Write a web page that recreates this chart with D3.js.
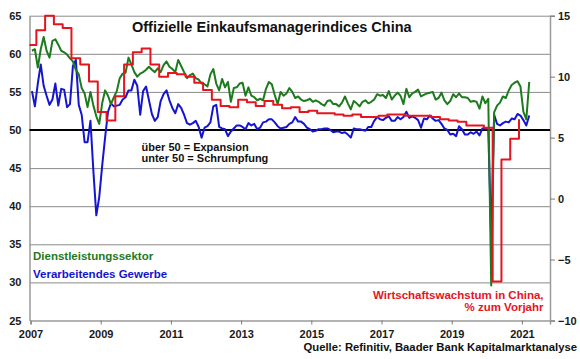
<!DOCTYPE html>
<html>
<head>
<meta charset="utf-8">
<script src="https://cdn.jsdelivr.net/npm/d3@7"></script>
<style>
  html, body { margin: 0; padding: 0; background: #fff; }
  svg { display: block; }
  text { font-family: "Liberation Sans", Arial, sans-serif; font-weight: bold; }
</style>
</head>
<body>
<svg id="chart" width="580" height="359"></svg>
<script>
// ---------- DATA ----------
const startYear = 2007;
// Official manufacturing PMI (monthly from Jan 2007)
const manufacturing = [
  55.1, 53.1, 56.1, 58.6, 55.8, 54.5, 53.3, 54.0, 56.1, 53.2, 55.4, 55.3,
  53.0, 53.4, 58.4, 59.2, 53.3, 52.0, 48.4, 48.4, 51.2, 44.6, 38.8, 41.2,
  45.3, 49.0, 52.4, 53.5, 53.1, 53.2, 53.3, 54.0, 54.3, 55.2, 55.2, 56.6,
  55.8, 52.0, 55.1, 55.7, 53.9, 52.1, 51.2, 51.7, 53.8, 54.7, 55.2, 53.9,
  52.9, 52.2, 53.4, 52.9, 52.0, 50.9, 50.7, 50.9, 51.2, 50.4, 49.0, 50.3,
  50.5, 51.0, 53.1, 53.3, 50.4, 50.2, 50.1, 49.2, 49.8, 50.2, 50.6, 50.6,
  50.4, 50.1, 50.9, 50.6, 50.8, 50.1, 50.3, 51.0, 51.1, 51.4, 51.4, 51.0,
  50.5, 50.2, 50.3, 50.4, 50.8, 51.0, 51.7, 51.1, 51.1, 50.8, 50.3, 50.1,
  49.8, 49.9, 50.1, 50.1, 50.2, 50.2, 50.0, 49.7, 49.8, 49.8, 49.6, 49.7,
  49.4, 49.0, 50.2, 50.1, 50.1, 50.0, 49.9, 50.4, 50.4, 51.2, 51.7, 51.4,
  51.3, 51.6, 51.8, 51.2, 51.2, 51.7, 51.4, 51.7, 52.4, 51.6, 51.8, 51.6,
  51.3, 50.3, 51.5, 51.4, 51.9, 51.5, 51.2, 51.3, 50.8, 50.2, 50.0, 49.4,
  49.5, 49.2, 50.5, 50.1, 49.4, 49.4, 49.7, 49.5, 49.8, 49.3, 50.2, 50.2,
  50.0, 35.7, 52.0, 50.8, 50.6, 50.9, 51.1, 51.0, 51.5, 51.4, 52.1, 51.9,
  51.3, 50.6, 51.9
];
// Official non-manufacturing (services) PMI (monthly from Jan 2007)
const services = [
  60.4, 60.6, 58.2, 60.6, 62.2, 60.4, 59.5, 61.7, 61.9, 61.2, 60.4, 60.2,
  59.9, 59.4, 59.0, 57.9, 57.3, 55.5, 54.8, 53.0, 55.0, 53.2, 51.8, 50.8,
  53.5, 55.2, 54.5, 53.4, 54.3, 55.1, 56.8, 57.4, 57.5, 59.5, 58.6, 57.6,
  57.0, 57.4, 57.6, 57.9, 58.3, 57.9, 57.6, 58.1, 57.6, 58.5, 59.0, 58.3,
  58.0, 57.6, 59.2, 58.4, 57.6, 56.8, 57.2, 57.4, 56.8, 56.6, 56.1, 56.0,
  55.7, 57.3, 58.0, 56.1, 55.2, 56.7, 55.6, 56.3, 53.7, 55.5, 55.6, 56.1,
  56.2, 54.5, 55.6, 54.5, 54.3, 53.9, 54.1, 53.9, 55.4, 56.3, 56.0, 54.6,
  53.4, 55.0, 54.5, 54.8, 55.5, 55.0, 54.2, 54.4, 54.0, 53.8, 53.9, 54.1,
  53.7, 53.9, 53.7, 53.4, 53.2, 53.8, 53.9, 53.4, 53.4, 53.1, 53.6, 54.4,
  53.5, 52.7, 53.8, 53.5, 53.1, 53.7, 53.9, 53.5, 53.7, 54.0, 54.7, 54.5,
  54.6, 54.2, 55.1, 54.0, 54.5, 54.9, 54.5, 53.4, 55.4, 54.3, 54.8, 55.0,
  55.3, 54.4, 54.6, 54.8, 54.9, 55.0, 54.0, 54.2, 54.9, 53.9, 53.4, 53.8,
  54.7, 54.3, 54.8, 54.3, 54.3, 54.2, 53.7, 53.8, 53.7, 52.8, 54.4, 53.5,
  54.1, 29.6, 52.3, 53.2, 53.6, 54.4, 54.2, 55.2, 55.9, 56.2, 56.4, 55.7,
  52.4, 51.4, 56.3
];
// Real GDP growth, % y/y, quarterly from Q4 2006 (right axis)
const gdpStartYear = 2006, gdpStartQuarter = 4;
const gdpGrowth = [
  12.6,
  13.8, 15.0, 14.3, 14.0,
  11.5, 11.0, 9.6, 7.1,
  6.4, 8.4, 11.0, 12.0,
  12.3, 11.0, 10.0, 10.3,
  10.2, 10.0, 9.5, 8.9,
  8.1, 7.6, 7.5, 8.1,
  7.9, 7.6, 8.0, 7.7,
  7.4, 7.5, 7.1, 7.2,
  7.0, 7.0, 6.9, 6.8,
  6.9, 6.7, 6.7, 6.8,
  6.9, 6.9, 6.8, 6.8,
  6.8, 6.7, 6.5, 6.4,
  6.3, 6.0, 6.0, 5.8,
  -6.8, 3.2, 4.9, 6.5
];
const xTickYears = [2007, 2009, 2011, 2013, 2015, 2017, 2019, 2021];
const leftTicks = [25, 30, 35, 40, 45, 50, 55, 60, 65];
const rightTicks = [-10, -5, 0, 5, 10, 15];
const title = "Offizielle Einkaufsmanagerindices China";
const note = ["über 50 = Expansion", "unter 50 = Schrumpfung"];
const legendServices = "Dienstleistungssektor";
const legendManufacturing = "Verarbeitendes Gewerbe";
const gdpLabel = ["Wirtschaftswachstum in China,", "% zum Vorjahr"];
const source = "Quelle: Refinitiv, Baader Bank Kapitalmarktanalyse";

// ---------- LAYOUT ----------
const L = 29.5, R = 550, T = 15.7, B = 320.5;
const colGreen = "#1d7a1d", colBlue = "#1414d2", colRed = "#e6141e";

const svg = d3.select("#chart");
const x = d3.scaleLinear().domain([2007, 2021.8]).range([30.5, R]);
const yL = d3.scaleLinear().domain([25, 65]).range([B, T]);
const yR = d3.scaleLinear().domain([-10, 15]).range([B, T]);

svg.append("defs").append("clipPath").attr("id", "clip")
  .append("rect").attr("x", L).attr("y", T - 2).attr("width", R - L).attr("height", B - T + 4);

// gridlines
const grid = svg.append("g").attr("transform", `translate(${L},0)`)
  .call(d3.axisLeft(yL).tickValues(leftTicks.filter(d => d !== 25 && d !== 50)).tickSize(-(R - L)).tickFormat(""));
grid.select(".domain").remove();
grid.selectAll("line").attr("stroke", "#8a8a8a").attr("stroke-width", 1);

// left axis
const gl = svg.append("g").attr("transform", `translate(${L},0)`)
  .call(d3.axisLeft(yL).tickValues(leftTicks).tickSize(0).tickPadding(8));
gl.select(".domain").attr("stroke", "#9a9a9a").attr("stroke-width", 1.5);
gl.selectAll("text").attr("font-size", 11).attr("fill", "#1a1a1a");

// right axis
const gr = svg.append("g").attr("transform", `translate(${R},0)`)
  .call(d3.axisRight(yR).tickValues(rightTicks).tickSize(5).tickPadding(3));
gr.select(".domain").attr("stroke", "#9a9a9a").attr("stroke-width", 1.5);
gr.selectAll("line").attr("stroke", "#7a7a7a");
gr.selectAll("text").attr("font-size", 11).attr("fill", "#1a1a1a");

// bottom axis
const gb = svg.append("g").attr("transform", `translate(0,${B})`)
  .call(d3.axisBottom(x).tickValues(xTickYears).tickFormat(d3.format("d")).tickSize(4).tickPadding(6));
gb.select(".domain").attr("stroke", "#9a9a9a").attr("stroke-width", 1.5);
gb.selectAll("line").attr("stroke", "#7a7a7a");
gb.selectAll("text").attr("font-size", 11).attr("fill", "#1a1a1a");

// 50 line
svg.append("line").attr("x1", L).attr("x2", R).attr("y1", yL(50)).attr("y2", yL(50))
  .attr("stroke", "#000").attr("stroke-width", 2);

// series
const monthly = arr => arr.map((v, i) => ({ t: startYear + (i + 0.5) / 12, v }));
const plot = svg.append("g").attr("clip-path", "url(#clip)");
const lineL = d3.line().x(d => x(d.t)).y(d => yL(d.v));

plot.append("path").datum(monthly(manufacturing)).attr("d", lineL)
  .attr("fill", "none").attr("stroke", colBlue).attr("stroke-width", 2).attr("stroke-linejoin", "round");
plot.append("path").datum(monthly(services)).attr("d", lineL)
  .attr("fill", "none").attr("stroke", colGreen).attr("stroke-width", 2).attr("stroke-linejoin", "round");

const gdpPts = gdpGrowth.map((v, i) => {
  const q = gdpStartQuarter - 1 + i;
  const yr = gdpStartYear + Math.floor(q / 4);
  const qi = q % 4;
  return { t: yr + (qi * 3 + 2) / 12, v };
});
const lineR = d3.line().x(d => x(d.t)).y(d => yR(d.v)).curve(d3.curveStepAfter);
plot.append("path").datum(gdpPts).attr("d", lineR)
  .attr("fill", "none").attr("stroke", colRed).attr("stroke-width", 2).attr("stroke-linejoin", "round");

// texts
svg.append("text").attr("x", 132).attr("y", 31.5).attr("font-size", 14.5).attr("fill", "#111")
  .text(title);

svg.selectAll(".note").data(note).enter().append("text")
  .attr("x", 141.5).attr("y", (d, i) => 150.5 + i * 11.3).attr("font-size", 11).attr("fill", "#111")
  .text(d => d);

svg.append("text").attr("x", 33).attr("y", 260).attr("font-size", 11.5).attr("fill", colGreen).text(legendServices);
svg.append("text").attr("x", 33).attr("y", 277.5).attr("font-size", 11.5).attr("fill", colBlue).text(legendManufacturing);

svg.selectAll(".gdp").data(gdpLabel).enter().append("text")
  .attr("x", 543.5).attr("y", (d, i) => 299 + i * 11.8).attr("text-anchor", "end")
  .attr("font-size", 11.5).attr("fill", colRed).text(d => d);

svg.append("text").attr("x", 577).attr("y", 351).attr("text-anchor", "end")
  .attr("font-size", 11.3).attr("fill", "#111").text(source);
</script>
</body>
</html>
